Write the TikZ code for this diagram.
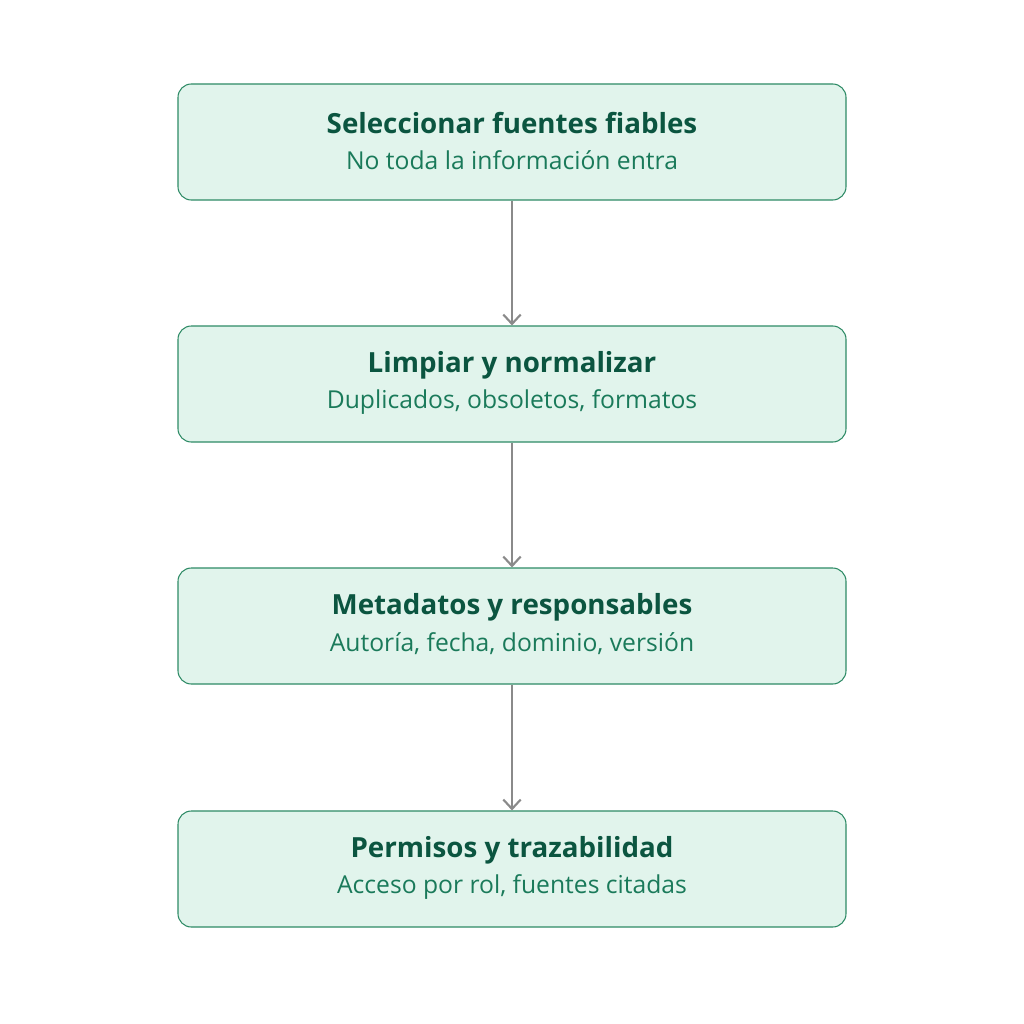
\documentclass[tikz,border=0pt]{standalone}
\usepackage{fontspec}
\setmainfont{Open Sans}
\usetikzlibrary{arrows.meta}
\definecolor{boxfill}{HTML}{E1F4EC}
\definecolor{boxdraw}{HTML}{2E8B66}
\definecolor{titlecol}{HTML}{0B5540}
\definecolor{subcol}{HTML}{1A7A5A}
\definecolor{arrcol}{HTML}{8A8A8A}
\tikzset{
  stepbox/.style={draw=boxdraw, fill=boxfill, line width=0.8pt, rounded corners=10pt,
    minimum width=501pt, minimum height=87pt, align=center, inner sep=0pt},
  ttl/.style={font=\fontsize{20.8}{25}\selectfont\bfseries, text=titlecol},
  sub/.style={font=\fontsize{18.5}{22}\selectfont, text=subcol},
  conn/.style={draw=arrcol, line width=2pt, -{Straight Barb[length=7pt,width=13pt,line width=1.6pt]}}
}
\begin{document}
\begin{tikzpicture}[x=0.75pt,y=-0.75pt]
\useasboundingbox[fill=white] (0,0) rectangle (1024,1024);
\node[stepbox] (b1) at (512,142) {};
\node[stepbox] (b2) at (512,384) {};
\node[stepbox] (b3) at (512,626) {};
\node[stepbox] (b4) at (512,869) {};
\node[ttl] (t1) at (512,123) {Seleccionar fuentes fiables};
\node[sub] (s1) at (512,160) {No toda la información entra};
\node[ttl] (t2) at (512,365) {Limpiar y normalizar};
\node[sub] (s2) at (512,402) {Duplicados, obsoletos, formatos};
\node[ttl] (t3) at (512,607) {Metadatos y responsables};
\node[sub] (s3) at (512,644) {Autoría, fecha, dominio, versión};
\node[ttl] (t4) at (512,850) {Permisos y trazabilidad};
\node[sub] (s4) at (512,887) {Acceso por rol, fuentes citadas};
\draw[conn] (b1.south) -- (b2.north);
\draw[conn] (b2.south) -- (b3.north);
\draw[conn] (b3.south) -- (b4.north);
\end{tikzpicture}
\end{document}
